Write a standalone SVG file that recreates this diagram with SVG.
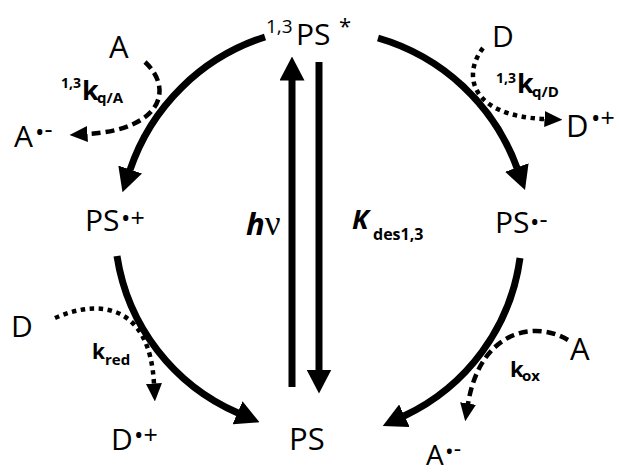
<svg xmlns="http://www.w3.org/2000/svg" width="619" height="472" viewBox="0 0 619 472">
<defs>
<style>
text{font-family:"Open Sans","Noto Sans","DejaVu Sans",sans-serif;fill:#000}
.b{font-weight:bold}
.bi{font-weight:bold;font-style:italic}
.nu{font-family:"Liberation Serif","DejaVu Serif",serif}
.main{fill:none;stroke:#000;stroke-width:7}
.dash{fill:none;stroke:#000;stroke-width:4.5;stroke-dasharray:9 5}
.dot{fill:none;stroke:#000;stroke-width:4.5;stroke-dasharray:4.5 4.5}
</style>
<marker id="big" markerUnits="userSpaceOnUse" markerWidth="24" markerHeight="25" viewBox="0 0 24 25" refX="0.5" refY="12.5" orient="auto"><path d="M0,0 L24,12.5 L0,25 z" fill="#000"/></marker>
<marker id="small" markerUnits="userSpaceOnUse" markerWidth="18" markerHeight="16" viewBox="0 0 18 16" refX="0.5" refY="8" orient="auto"><path d="M0,0 L18,8 L0,16 z" fill="#000"/></marker>
</defs>
<rect width="619" height="472" fill="#fff"/>

<g id="connectors">
<path class="main" d="M265,37 A210,210 0 0 0 130,170" marker-end="url(#big)"/>
<path class="main" d="M378,38 A210,210 0 0 1 517,168" marker-end="url(#big)"/>
<path class="main" d="M117,256 A205,205 0 0 0 238,413" marker-end="url(#big)"/>
<path class="main" d="M520,258 A205,205 0 0 1 404,416" marker-end="url(#big)"/>
<path class="main" d="M292,387 L292,80" marker-end="url(#big)"/>
<path class="main" d="M319,62 L319,370" marker-end="url(#big)"/>
<path class="dash" d="M145,62 C175,90 160,130 87,134" marker-end="url(#small)"/>
<path class="dot" d="M483,48 C462,75 470,116 545,119" marker-end="url(#small)"/>
<path class="dot" d="M55,318 C100,298 150,305 154,384" marker-end="url(#small)"/>
<path class="dash" d="M568,340 C535,320 480,330 468,404" marker-end="url(#small)"/>
</g>

<g id="node-PS-excited">
<text x="266" y="33" font-size="19">1,3</text>
<text x="296" y="45" font-size="30">PS</text>
<text x="339" y="34" font-size="22">*</text>
</g>
<g id="node-A-top"><text x="109" y="58" font-size="31">A</text></g>
<g id="label-kqA">
<text class="b" x="61" y="88" font-size="14">1,3</text>
<text class="b" x="82" y="100" font-size="27">k</text>
<text class="b" x="97" y="103" font-size="15">q/A</text>
</g>
<g id="node-A-radical-left">
<text x="14" y="147" font-size="30">A</text>
<text x="35" y="141" font-size="25">•<tspan dy="-3">-</tspan></text>
</g>
<g id="node-PS-cation">
<text x="85" y="231" font-size="30">PS</text>
<text x="121" y="227" font-size="25">•+</text>
</g>
<g id="label-hv">
<text x="246" y="235" font-size="31"><tspan class="bi">h</tspan><tspan class="nu" font-size="35">ν</tspan></text>
</g>
<g id="label-kdes">
<text class="bi" x="352" y="229" font-size="27">K</text>
<text class="b" x="373" y="240" font-size="16">des1,3</text>
</g>
<g id="node-PS-anion">
<text x="495" y="233" font-size="30">PS</text>
<text x="530" y="231" font-size="25">•<tspan dy="-3">-</tspan></text>
</g>
<g id="node-D-top"><text x="492" y="47" font-size="30">D</text></g>
<g id="label-kqD">
<text class="b" x="496" y="83" font-size="14">1,3</text>
<text class="b" x="517" y="93" font-size="27">k</text>
<text class="b" x="532" y="97" font-size="15">q/D</text>
</g>
<g id="node-D-radical-right">
<text x="566" y="137" font-size="31">D</text>
<text x="591" y="127" font-size="25">•+</text>
</g>
<g id="node-D-left"><text x="11" y="337" font-size="30">D</text></g>
<g id="label-kred">
<text class="b" x="92" y="359" font-size="21">k</text>
<text class="b" x="105" y="365" font-size="15">red</text>
</g>
<g id="node-D-radical-bottom">
<text x="111" y="450" font-size="30">D</text>
<text x="134" y="444" font-size="25">•+</text>
</g>
<g id="node-PS"><text x="289" y="450" font-size="31">PS</text></g>
<g id="node-A-right"><text x="570" y="360" font-size="31">A</text></g>
<g id="label-kox">
<text class="b" x="510" y="377" font-size="22">k</text>
<text class="b" x="522" y="381" font-size="15">ox</text>
</g>
<g id="node-A-radical-bottom">
<text x="426" y="465" font-size="28">A</text>
<text x="445" y="460" font-size="23">•<tspan dy="-3">-</tspan></text>
</g>
</svg>
